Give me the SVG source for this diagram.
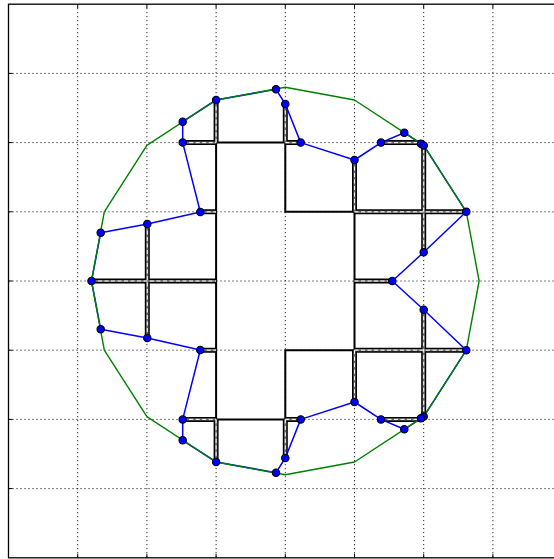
<svg xmlns="http://www.w3.org/2000/svg" width="554" height="559" viewBox="0 0 554 559">
<defs>
<style>
.grid{stroke:#000;stroke-width:1;stroke-dasharray:1 3;fill:none}
.tick{stroke:#000;stroke-width:1;fill:none}
.frame{stroke:#000;stroke-width:1.3;fill:none}
.bnd{stroke:#000;stroke-width:2;fill:none;stroke-linejoin:miter}
.railA{stroke:#000;stroke-width:5;fill:none;stroke-linecap:butt;stroke-linejoin:miter}
.railB{stroke:#6e6e6e;stroke-width:2.2;fill:none;stroke-linecap:butt;stroke-linejoin:miter}
.railC{stroke:#fff;stroke-width:1;fill:none;stroke-dasharray:4 2.5}
.green{stroke:#008000;stroke-width:1.4;fill:none;stroke-linejoin:round}
.blue{stroke:#0000ff;stroke-width:1.5;fill:none;stroke-linejoin:round}
.dot{fill:#0000ff;stroke:#000;stroke-width:1.1}
</style>
<path id="rails" d="M182.7,142.6 H216.1 M216.1,100 V142.6 M200.3,211.8 H216.1 M91.5,281 H216.1 M147.3,224 V338 M200.3,350.2 H216.1 M182.7,419.4 H216.1 M216.1,419.4 V462 M285.3,104 V142.6 M285.3,142.6 H300.7 M285.3,419.4 V458 M285.3,419.4 H300.7 M381,142.6 H423.7 M423.7,142.6 V252.3 M354.5,160 V211.8 M354.5,211.8 H466.3 M354.5,281 H392.3 M354.5,350.2 H466.3 M423.7,309.7 V419.4 M381,419.4 H423.7 M354.5,350.2 V402"/>
</defs>
<rect x="0" y="0" width="554" height="559" fill="#fff"/>

<g id="axes">
<rect class="frame" x="8.5" y="4.2" width="553.6" height="553.6"/>
<g class="grid">
<path d="M77.7,4.2 V557.8 M146.9,4.2 V557.8 M216.1,4.2 V557.8 M285.3,4.2 V557.8 M354.5,4.2 V557.8 M423.7,4.2 V557.8 M492.9,4.2 V557.8"/>
<path d="M8.5,73.4 H562 M8.5,142.6 H562 M8.5,211.8 H562 M8.5,281 H562 M8.5,350.2 H562 M8.5,419.4 H562 M8.5,488.6 H562"/>
</g>
<g class="tick">
<path d="M8.5,73.4 h4 M8.5,142.6 h4 M8.5,211.8 h4 M8.5,281 h4 M8.5,350.2 h4 M8.5,419.4 h4 M8.5,488.6 h4"/>
<path d="M77.7,557.8 v-4 M146.9,557.8 v-4 M216.1,557.8 v-4 M285.3,557.8 v-4 M354.5,557.8 v-4 M423.7,557.8 v-4 M492.9,557.8 v-4"/>
<path d="M77.7,4.2 v4 M146.9,4.2 v4 M216.1,4.2 v4 M285.3,4.2 v4 M354.5,4.2 v4 M423.7,4.2 v4 M492.9,4.2 v4"/>
</g>
</g>

<g id="connectors">
<path id="boundary" class="bnd" d="M216.1,142.6 H285.3 V211.8 H354.5 V350.2 H285.3 V419.4 H216.1 Z"/>
<g id="rail-lines">
<use href="#rails" class="railA"/>
<use href="#rails" class="railB"/>
<use href="#rails" class="railC"/>
</g>
<path id="blue-loop" class="blue" d="M91.5,281 L100.7,232.7 L147.3,224 L200.3,212 L182.7,142.6 L182.7,121.7 L216.1,100 L276,89.3 L285.3,104 L300.7,142.6 L354.5,160 L381,142.6 L404.3,132.7 L421,143.7 L423.7,145.4 L466.3,211.8 L423.7,252.3 L392.3,281 L423.7,309.7 L466.3,350.2 L423.7,416.6 L421,418.3 L404.3,429.3 L381,419.4 L354.5,402 L300.7,419.4 L285.3,458 L276,472.7 L216.1,462 L182.7,440.3 L182.7,419.4 L200.3,350 L147.3,338 L100.7,329.3 Z"/>
<path id="green-poly" class="green" d="M285.3,87.2 L354.5,100 L423.7,145.4 L466.3,211.8 L479.1,281 L466.3,350.2 L423.7,416.6 L354.5,462 L285.3,474.8 L216.1,462 L146.9,416.6 L104.3,350.2 L91.5,281 L104.3,211.8 L146.9,145.4 L216.1,100 Z"/>
</g>

<g id="nodes">
<circle id="n1" class="dot" cx="91.5" cy="281" r="3.7"/>
<circle id="n2" class="dot" cx="100.7" cy="232.7" r="3.7"/>
<circle id="n3" class="dot" cx="147.3" cy="224" r="3.7"/>
<circle id="n4" class="dot" cx="200.3" cy="212" r="3.7"/>
<circle id="n5" class="dot" cx="182.7" cy="142.6" r="3.7"/>
<circle id="n6" class="dot" cx="182.7" cy="121.7" r="3.7"/>
<circle id="n7" class="dot" cx="216.1" cy="100" r="3.7"/>
<circle id="n8" class="dot" cx="276" cy="89.3" r="3.7"/>
<circle id="n9" class="dot" cx="285.3" cy="104" r="3.7"/>
<circle id="n10" class="dot" cx="300.7" cy="142.6" r="3.7"/>
<circle id="n11" class="dot" cx="354.5" cy="160" r="3.7"/>
<circle id="n12" class="dot" cx="381" cy="142.6" r="3.7"/>
<circle id="n13" class="dot" cx="404.3" cy="132.7" r="3.7"/>
<circle id="n14" class="dot" cx="421" cy="143.7" r="3.7"/>
<circle id="n15" class="dot" cx="423.7" cy="145.4" r="3.7"/>
<circle id="n16" class="dot" cx="466.3" cy="211.8" r="3.7"/>
<circle id="n17" class="dot" cx="423.7" cy="252.3" r="3.7"/>
<circle id="n18" class="dot" cx="392.3" cy="281" r="3.7"/>
<circle id="n19" class="dot" cx="423.7" cy="309.7" r="3.7"/>
<circle id="n20" class="dot" cx="466.3" cy="350.2" r="3.7"/>
<circle id="n21" class="dot" cx="423.7" cy="416.6" r="3.7"/>
<circle id="n22" class="dot" cx="421" cy="418.3" r="3.7"/>
<circle id="n23" class="dot" cx="404.3" cy="429.3" r="3.7"/>
<circle id="n24" class="dot" cx="381" cy="419.4" r="3.7"/>
<circle id="n25" class="dot" cx="354.5" cy="402" r="3.7"/>
<circle id="n26" class="dot" cx="300.7" cy="419.4" r="3.7"/>
<circle id="n27" class="dot" cx="285.3" cy="458" r="3.7"/>
<circle id="n28" class="dot" cx="276" cy="472.7" r="3.7"/>
<circle id="n29" class="dot" cx="216.1" cy="462" r="3.7"/>
<circle id="n30" class="dot" cx="182.7" cy="440.3" r="3.7"/>
<circle id="n31" class="dot" cx="182.7" cy="419.4" r="3.7"/>
<circle id="n32" class="dot" cx="200.3" cy="350" r="3.7"/>
<circle id="n33" class="dot" cx="147.3" cy="338" r="3.7"/>
<circle id="n34" class="dot" cx="100.7" cy="329.3" r="3.7"/>
</g>
</svg>
